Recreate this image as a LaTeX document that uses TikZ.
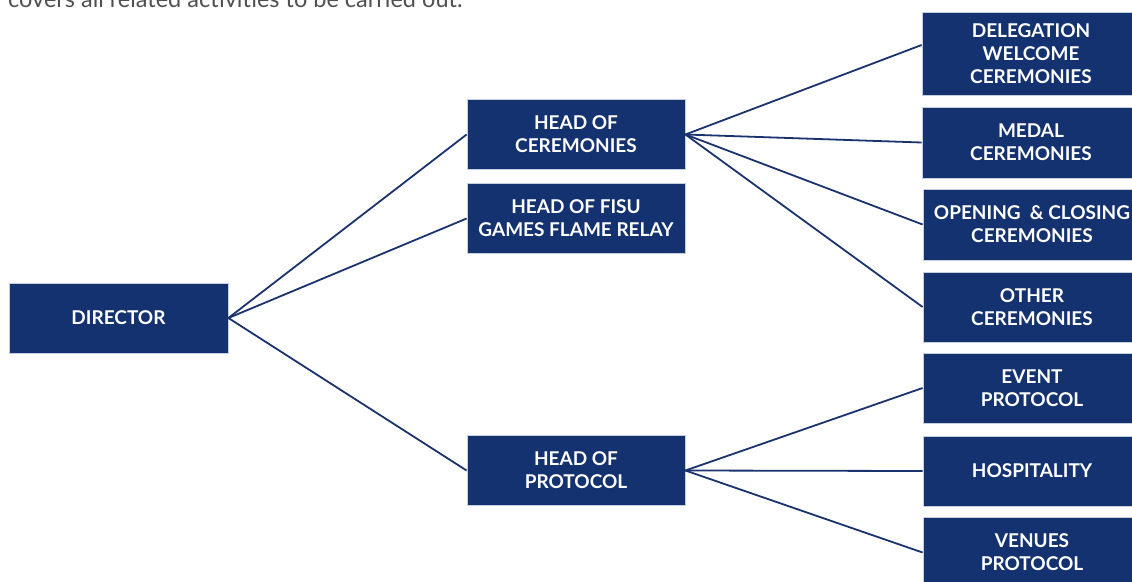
\documentclass[tikz,border=0pt]{standalone}
\usepackage{fontspec}
\setmainfont{Lato}
\newfontfamily\boxfont{Lato Bold}
\definecolor{navy}{HTML}{14326F}
\definecolor{rim}{HTML}{C5CEDF}
\definecolor{wire}{HTML}{1A336F}
\definecolor{prose}{HTML}{505050}
\tikzset{
  orgbox/.style={draw=rim, line width=0.8pt, fill=navy, text=white, align=center,
    inner sep=0pt, minimum width=218pt, minimum height=70pt,
    font=\boxfont\fontsize{19}{23}\selectfont},
  link/.style={draw=wire, line width=1.8pt}
}
\begin{document}
\begin{tikzpicture}[x=1pt,y=-1pt]
\useasboundingbox (0,0) rectangle (1132,581);
\fill[white] (0,0) rectangle (1132,581);

% running text above the chart, cut by the page edge
\node[anchor=base west, inner sep=0pt, text=prose, font=\fontsize{23.5}{28}\selectfont] (intro) at (8,7.5)
  {covers all related activities to be carried out.};

% left column
\node[orgbox, minimum width=219pt] (dir) at (118.5,318) {DIRECTOR};

% middle column
\node[orgbox] (hc) at (576,134.5) {HEAD OF\\CEREMONIES};
\node[orgbox] (hf) at (576,218.5) {HEAD OF FISU\\GAMES FLAME RELAY};
\node[orgbox] (hp) at (576,470.5) {HEAD OF\\PROTOCOL};

% right column
\node[orgbox, minimum height=83pt] (dwc) at (1031,53.5) {DELEGATION\\WELCOME\\CEREMONIES};
\node[orgbox, minimum height=71pt] (med) at (1031,142.5) {MEDAL\\CEREMONIES};
\node[orgbox, minimum height=71pt] (occ) at (1032,224.5) {OPENING\ \ \& CLOSING\\CEREMONIES};
\node[orgbox] (oth) at (1032,307) {OTHER\\CEREMONIES};
\node[orgbox] (evp) at (1032,388) {EVENT\\PROTOCOL};
\node[orgbox] (hos) at (1032,471) {HOSPITALITY};
\node[orgbox, minimum height=71pt] (ven) at (1032,552.5) {VENUES\\PROTOCOL};

% connectors
\draw[link] (dir.east) -- (hc.west);
\draw[link] (dir.east) -- (hf.west);
\draw[link] (dir.east) -- (hp.west);

\draw[link] (hc.east) -- ([yshift=8.5pt]dwc.west);
\draw[link] (hc.east) -- (med.west);
\draw[link] (hc.east) -- (occ.west);
\draw[link] (hc.east) -- (oth.west);

\draw[link] (hp.east) -- (evp.west);
\draw[link] (hp.east) -- (hos.west);
\draw[link] (hp.east) -- (ven.west);
\end{tikzpicture}
\end{document}
